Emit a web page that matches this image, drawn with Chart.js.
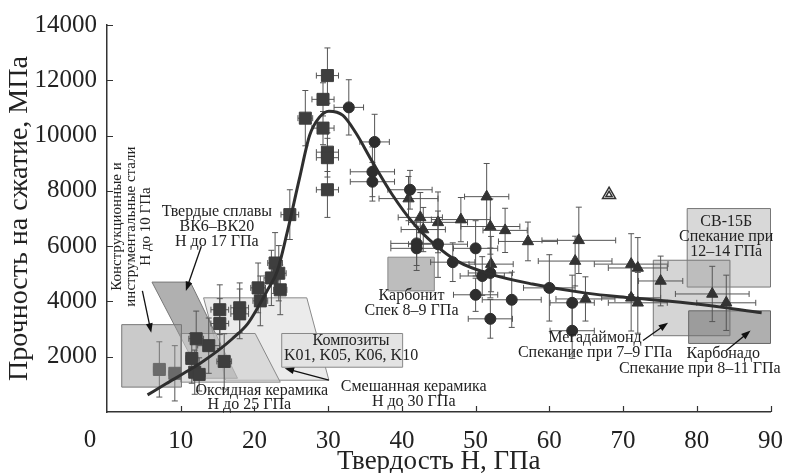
<!DOCTYPE html>
<html lang="ru">
<head>
<meta charset="UTF-8">
<title>Прочность на сжатие и твердость</title>
<script src="https://cdn.jsdelivr.net/npm/chart.js@4.4.1/dist/chart.umd.min.js"></script>
<style>
    html, body { margin: 0; padding: 0; background: #fff; }
</style>
</head>
<body>
<canvas id="chart" width="797" height="473"></canvas>
<script>
    // squares: hard alloys, ceramics and composites
    const squareX    = [7.1, 9.2, 11.5, 12.1, 13.8, 11.9, 12.5, 15.9, 15.3, 15.3, 18.0, 18.0, 20.5, 20.8, 22.8, 23.3, 22.3, 23.5, 24.8, 26.9, 29.3, 29.9, 29.3, 29.9, 29.9, 29.9];
    const squareY    = [1540, 1400, 1940, 2650, 2400, 1440, 1360, 1830, 3700, 3200, 3770, 3550, 4490, 4020, 5390, 5020, 4850, 4420, 7140, 10630, 11310, 12170, 10270, 9400, 9200, 8040];
    const squareXErr = [0.8, 0.8, 0.8, 1.0, 1.5, 0.8, 0.8, 1.0, 1.2, 1.2, 1.2, 1.2, 1.0, 1.0, 1.0, 1.0, 1.0, 0.9, 1.2, 1.0, 1.5, 1.5, 1.5, 1.5, 1.5, 1.5];
    const squareYErr = [1000, 1000, 900, 1000, 1000, 800, 600, 1000, 900, 900, 900, 900, 900, 900, 1100, 1000, 1000, 900, 900, 1000, 600, 1000, 600, 700, 700, 1000];

    // circles
    const circleX    = [32.8, 36.3, 36.0, 36.0, 41.1, 42.0, 42.0, 44.9, 50.0, 46.9, 50.9, 52.0, 50.0, 54.9, 52.0, 60.0, 63.1, 63.1];
    const circleY    = [11020, 9770, 8690, 8330, 8040, 6100, 5920, 6070, 5920, 5420, 4920, 5030, 4240, 4060, 3370, 4490, 3950, 2940];
    const circleXErr = [2, 2, 3, 3, 3, 3.5, 3.5, 4, 3, 3, 3, 3, 3, 4, 3, 3.5, 3, 3];
    const circleYErr = [1000, 1000, 900, 700, 700, 800, 800, 1200, 1000, 700, 700, 900, 600, 1000, 700, 1200, 1000, 1000];

    // triangles
    const triangleX    = [40.9, 42.5, 42.9, 44.9, 48.0, 51.5, 52.0, 54.0, 57.1, 52.1, 64.0, 63.5, 64.9, 71.1, 72.0, 71.1, 72.0, 75.1, 82.1, 84.0];
    const triangleY    = [7720, 7040, 6600, 6860, 6960, 7790, 6710, 6570, 6170, 5350, 6210, 5460, 4090, 5350, 5210, 4130, 3950, 4740, 4270, 3950];
    const triangleXErr = [4, 3, 3, 4, 4, 3, 4, 3, 4, 3, 5, 5, 4, 5, 4, 4, 4, 3, 5, 4];
    const triangleYErr = [800, 900, 800, 1100, 800, 1200, 1000, 800, 700, 1000, 1200, 900, 800, 1100, 1100, 1200, 1100, 900, 1000, 1000];

    // open double triangle
    const openX = [68.1, 68.1];
    const openY = [7860, 7860];

    // fitted curve
    const fitX = [5.5, 8, 11.1, 13, 15.1, 17, 19.1, 20.5, 21.7, 23.1, 24.4, 26.1, 27.5, 28.8, 30.1, 32, 33.7, 36, 38.7, 41.7, 44.4, 47.5, 52, 57.7, 65, 71.1, 80, 88.8];
    const fitY = [620, 1020, 1510, 1830, 2230, 2650, 3200, 3800, 4380, 5100, 6450, 8440, 10020, 10660, 10880, 10730, 10120, 9050, 7860, 6780, 6070, 5460, 4990, 4630, 4300, 4130, 3910, 3590];

    // material regions, [hardness, strength] corners
    const regionSteel      = [[2.0, 3160], [10.1, 3160], [10.1, 900], [2.0, 900]];
    const regionHardAlloy  = [[6.1, 4700], [11.3, 4700], [17.7, 1220], [12.9, 1220]];
    const regionMixed      = [[13.1, 4130], [27.1, 4130], [30.1, 1150], [16.1, 1150]];
    const regionOxide      = [[10.0, 2840], [20.1, 2840], [23.5, 1080], [10.0, 1080]];
    const regionComposite  = [[23.7, 2840], [40.1, 2840], [40.1, 1620], [23.7, 1620]];
    const regionCarbonit   = [[38.1, 5600], [44.4, 5600], [44.4, 4380], [38.1, 4380]];
    const regionSV15B      = [[78.7, 7360], [90, 7360], [90, 4520], [78.7, 4520]];
    const regionMegadiamond = [[74.1, 5490], [84.5, 5490], [84.5, 2760], [74.1, 2760]];
    const regionCarbonado  = [[78.9, 3660], [90, 3660], [90, 2480], [78.9, 2480]];

    const xTicks = [0, 10, 20, 30, 40, 50, 60, 70, 80, 90];
    const yTicks = [2000, 4000, 6000, 8000, 10000, 12000, 14000];

    const serif = '"Liberation Serif", "DejaVu Serif", serif';

    const toPoints = (xs, ys) => xs.map((x, i) => ({x: x, y: ys[i]}));

    const regionStyles = [
        {pts: regionMixed, fill: 'rgba(228,228,228,0.75)', stroke: '#8a8a8a'},
        {pts: regionHardAlloy, fill: 'rgba(150,150,150,0.75)', stroke: '#777'},
        {pts: regionOxide, fill: 'rgba(205,205,205,0.6)', stroke: '#888'},
        {pts: regionComposite, fill: '#e3e3e3', stroke: '#888'},
        {pts: regionCarbonit, fill: '#bdbdbd', stroke: '#888'},
        {pts: regionSV15B, fill: '#d8d8d8', stroke: '#777'},
        {pts: regionMegadiamond, fill: 'rgba(150,150,150,0.4)', stroke: '#777'},
        {pts: regionCarbonado, fill: 'rgba(110,110,110,0.55)', stroke: '#666'},
    ];
    // this one is laid over the square markers
    const overlayStyle = {pts: regionSteel, fill: 'rgba(150,150,150,0.5)', stroke: '#777'};

    const notes = [
        {lines: ['Твердые сплавы', 'ВК6–ВК20', 'Н до 17 ГПа'], x: 14.9, y: 7250},
        {lines: ['Оксидная керамика'], x: 21.0, y: 754},
        {lines: ['Н до 25 ГПа'], x: 19.3, y: 251},
        {lines: ['Смешанная керамика', 'Н до 30 ГПа'], x: 41.6, y: 897},
        {lines: ['Композиты', 'K01, K05, K06, K10'], x: 33.1, y: 2585},
        {lines: ['Карбонит', 'Спек 8–9 ГПа'], x: 41.3, y: 4200},
        {lines: ['Мегадаймонд', 'Спекание при 7–9 ГПа'], x: 66.2, y: 2693},
        {lines: ['Карбонадо'], x: 83.6, y: 2118},
        {lines: ['Спекание при 8–11 ГПа'], x: 80.4, y: 1580},
        {lines: ['СВ-15Б', 'Спекание при', '12–14 ГПа'], x: 84.0, y: 6893},
    ];
    const steelNote = {lines: ['Конструкционные и', 'инструментальные стали', 'Н до 10 ГПа'], x: [1.33, 3.2, 5.33], y: 6710};

    const arrows = [
        {from: [4.8, 4380], to: [6.0, 2870]},
        {from: [12.8, 5995], to: [10.7, 4380]},
        {from: [30.1, 1149], to: [24.1, 1580]},
        {from: [72.7, 2585], to: [76.1, 3231]},
        {from: [84.0, 2226], to: [87.3, 2944]},
    ];

    function drawPoly(chart, style) {
        const ctx = chart.ctx, sx = chart.scales.x, sy = chart.scales.y;
        ctx.beginPath();
        style.pts.forEach((p, i) => {
            const px = sx.getPixelForValue(p[0]), py = sy.getPixelForValue(p[1]);
            if (i === 0) ctx.moveTo(px, py); else ctx.lineTo(px, py);
        });
        ctx.closePath();
        ctx.fillStyle = style.fill;
        ctx.fill();
        ctx.lineWidth = 1;
        ctx.strokeStyle = style.stroke;
        ctx.stroke();
    }

    const errorBars = {
        id: 'errorBars',
        beforeDatasetDraw(chart, args) {
            const ds = chart.data.datasets[args.index];
            if (!ds.errX) return;
            const ctx = chart.ctx, sx = chart.scales.x, sy = chart.scales.y;
            ctx.save();
            ctx.strokeStyle = '#555';
            ctx.lineWidth = 1;
            ds.data.forEach((p, i) => {
                const cx = sx.getPixelForValue(p.x), cy = sy.getPixelForValue(p.y);
                const x0 = sx.getPixelForValue(p.x - ds.errX[i]), x1 = sx.getPixelForValue(p.x + ds.errX[i]);
                const y0 = sy.getPixelForValue(p.y - ds.errY[i]), y1 = sy.getPixelForValue(p.y + ds.errY[i]);
                ctx.beginPath();
                ctx.moveTo(x0, cy); ctx.lineTo(x1, cy);
                ctx.moveTo(x0, cy - 3); ctx.lineTo(x0, cy + 3);
                ctx.moveTo(x1, cy - 3); ctx.lineTo(x1, cy + 3);
                ctx.moveTo(cx, y0); ctx.lineTo(cx, y1);
                ctx.moveTo(cx - 3, y0); ctx.lineTo(cx + 3, y0);
                ctx.moveTo(cx - 3, y1); ctx.lineTo(cx + 3, y1);
                ctx.stroke();
            });
            ctx.restore();
        }
    };

    const regions = {
        id: 'regions',
        beforeDatasetsDraw(chart) {
            const ctx = chart.ctx, a = chart.chartArea;
            ctx.save();
            ctx.beginPath();
            ctx.rect(a.left, a.top, a.right - a.left + 1, a.bottom - a.top);
            ctx.clip();
            regionStyles.forEach(s => drawPoly(chart, s));
            ctx.restore();
        },
        afterDatasetDraw(chart, args) {
            if (args.index !== 1) return;
            chart.ctx.save();
            drawPoly(chart, overlayStyle);
            chart.ctx.restore();
        },
        afterDraw(chart) {
            const ctx = chart.ctx, sx = chart.scales.x, sy = chart.scales.y;
            ctx.save();
            // inward tick marks
            ctx.strokeStyle = '#333';
            ctx.lineWidth = 1.2;
            ctx.beginPath();
            xTicks.forEach(v => {
                if (v === 0) return;
                const px = Math.round(sx.getPixelForValue(v)) + 0.5;
                ctx.moveTo(px, sy.bottom); ctx.lineTo(px, sy.bottom - 6);
            });
            yTicks.forEach(v => {
                const py = Math.round(sy.getPixelForValue(v)) + 0.5;
                ctx.moveTo(sx.left, py); ctx.lineTo(sx.left + 6, py);
            });
            ctx.stroke();
            // shared origin label
            ctx.fillStyle = '#222';
            ctx.font = '25px ' + serif;
            ctx.textAlign = 'center';
            ctx.textBaseline = 'middle';
            ctx.fillText('0', sx.getPixelForValue(0) - 17, sy.bottom + 28);

            // notes
            ctx.font = '16px ' + serif;
            notes.forEach(n => {
                const px = sx.getPixelForValue(n.x), py = sy.getPixelForValue(n.y);
                n.lines.forEach((t, i) => ctx.fillText(t, px, py + i * 15));
            });
            ctx.font = '15px ' + serif;
            steelNote.lines.forEach((t, i) => {
                ctx.save();
                ctx.translate(sx.getPixelForValue(steelNote.x[i]), sy.getPixelForValue(steelNote.y));
                ctx.rotate(-Math.PI / 2);
                ctx.fillText(t, 0, 0);
                ctx.restore();
            });

            // arrows
            ctx.strokeStyle = '#111';
            ctx.fillStyle = '#111';
            ctx.lineWidth = 1.3;
            arrows.forEach(ar => {
                const x0 = sx.getPixelForValue(ar.from[0]), y0 = sy.getPixelForValue(ar.from[1]);
                const x1 = sx.getPixelForValue(ar.to[0]), y1 = sy.getPixelForValue(ar.to[1]);
                const ang = Math.atan2(y1 - y0, x1 - x0);
                ctx.beginPath();
                ctx.moveTo(x0, y0);
                ctx.lineTo(x1 - 6 * Math.cos(ang), y1 - 6 * Math.sin(ang));
                ctx.stroke();
                ctx.beginPath();
                ctx.moveTo(x1, y1);
                ctx.lineTo(x1 - 10 * Math.cos(ang - 0.35), y1 - 10 * Math.sin(ang - 0.35));
                ctx.lineTo(x1 - 10 * Math.cos(ang + 0.35), y1 - 10 * Math.sin(ang + 0.35));
                ctx.closePath();
                ctx.fill();
            });
            ctx.restore();
        }
    };

    const ctx = document.getElementById('chart').getContext('2d');
    new Chart(ctx, {
        type: 'scatter',
        data: {
            datasets: [
                {
                    type: 'line',
                    label: 'fit',
                    data: toPoints(fitX, fitY),
                    borderColor: '#2f2f2f',
                    borderWidth: 3,
                    pointRadius: 0,
                    cubicInterpolationMode: 'monotone',
                    fill: false,
                },
                {
                    label: 'squares',
                    data: toPoints(squareX, squareY),
                    errX: squareXErr,
                    errY: squareYErr,
                    pointStyle: 'rect',
                    pointRadius: 8.5,
                    backgroundColor: '#3e3e3e',
                    borderColor: '#3e3e3e',
                    borderWidth: 1,
                },
                {
                    label: 'circles',
                    data: toPoints(circleX, circleY),
                    errX: circleXErr,
                    errY: circleYErr,
                    pointStyle: 'circle',
                    pointRadius: 5.5,
                    backgroundColor: '#2e2e2e',
                    borderColor: '#2e2e2e',
                    borderWidth: 1,
                },
                {
                    label: 'triangles',
                    data: toPoints(triangleX, triangleY),
                    errX: triangleXErr,
                    errY: triangleYErr,
                    pointStyle: 'triangle',
                    pointRadius: 6.5,
                    backgroundColor: '#333',
                    borderColor: '#333',
                    borderWidth: 1,
                },
                {
                    label: 'open',
                    data: toPoints(openX, openY),
                    pointStyle: 'triangle',
                    pointRadius: [7.5, 3.5],
                    backgroundColor: '#fff',
                    borderColor: '#333',
                    borderWidth: 1.5,
                },
            ]
        },
        options: {
            responsive: false,
            animation: false,
            layout: { padding: { left: 0, right: 15, top: 22, bottom: 0 } },
            plugins: {
                legend: { display: false },
                tooltip: { enabled: false },
            },
            scales: {
                x: {
                    type: 'linear',
                    min: 0,
                    max: 90,
                    afterFit(scale) { scale.height = 61; },
                    grid: { display: false, drawTicks: false },
                    border: { display: true, color: '#333', width: 1.5 },
                    ticks: {
                        stepSize: 10,
                        padding: 14,
                        color: '#222',
                        font: { family: serif, size: 25 },
                        maxRotation: 0,
                        callback: v => (v === 0 ? '' : v),
                    },
                    title: {
                        display: true,
                        text: 'Твердость Н, ГПа',
                        color: '#222',
                        font: { family: serif, size: 27, lineHeight: 1 },
                        padding: { top: 0, bottom: -2 },
                    },
                },
                y: {
                    type: 'linear',
                    min: 0,
                    max: 14000,
                    afterFit(scale) { scale.width = 107; },
                    grid: { display: false, drawTicks: false },
                    border: { display: true, color: '#333', width: 1.5 },
                    ticks: {
                        stepSize: 2000,
                        padding: 10,
                        color: '#222',
                        font: { family: serif, size: 25 },
                        callback: v => (v === 0 ? '' : v),
                    },
                    title: {
                        display: true,
                        text: 'Прочность на сжатие, МПа',
                        color: '#222',
                        font: { family: serif, size: 28, lineHeight: 1 },
                        padding: { top: 6, bottom: 0 },
                    },
                },
            },
        },
        plugins: [errorBars, regions],
    });
</script>
</body>
</html>
